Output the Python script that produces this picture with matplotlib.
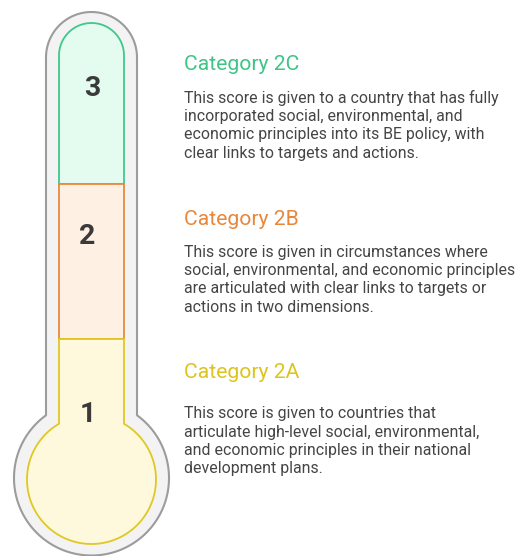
import numpy as np
import matplotlib
matplotlib.use("Agg")
import matplotlib.pyplot as plt
from matplotlib.patches import Polygon

# ---- data ----
scores = [3, 2, 1]
categories = ["Category 2C", "Category 2B", "Category 2A"]
descriptions = [
    ["This score is given to a country that has fully",
     "incorporated social, environmental, and",
     "economic principles into its BE policy, with",
     "clear links to targets and actions."],
    ["This score is given in circumstances where",
     "social, environmental, and economic principles",
     "are articulated with clear links to targets or",
     "actions in two dimensions."],
    ["This score is given to countries that",
     "articulate high-level social, environmental,",
     "and economic principles in their national",
     "development plans."],
]
edge_colors = ["#3fc88b", "#e8893c", "#e0c824"]
fill_colors = ["#e3fcef", "#fff0e4", "#fef9dc"]
title_colors = ["#3dc486", "#e8873a", "#dcc41c"]

plt.rcParams['font.family'] = ['Roboto', 'DejaVu Sans']

W, H = 517, 556
fig = plt.figure(figsize=(W / 100, H / 100), dpi=100)
ax = fig.add_axes([0, 0, 1, 1])
ax.set_xlim(0, W)
ax.set_ylim(H, 0)
ax.set_aspect('equal')
ax.axis('off')


def tube_top_arc(cx, tc, r, n=60):
    t = np.linspace(np.pi, 0, n)
    return np.column_stack([cx + r * np.cos(t), tc - r * np.sin(t)])


def bulb_arc(bx, by, R, hw, n=200):
    phi0 = np.arccos(hw / R)
    p = np.linspace(phi0, -np.pi - phi0, n)
    return np.column_stack([bx + R * np.cos(p), by - R * np.sin(p)])


# outer glass
cx = 91.5
ohw, otop = 45.5, 12.0
obx, oby, oR = 91.5, 478.0, 77.5
oyj = oby - np.sqrt(oR ** 2 - ohw ** 2)
otc = otop + ohw
outer = np.vstack([
    [[cx - ohw, oyj]],
    tube_top_arc(cx, otc, ohw),
    [[cx + ohw, oyj]],
    bulb_arc(obx, oby, oR, ohw),
])
ax.add_patch(Polygon(outer, closed=True, facecolor="#f3f3f3",
                     edgecolor="#9c9c9c", linewidth=1.5, joinstyle='round'))

# inner sections
ihw, itop = 32.5, 23.0
ibx, iby, iR = 91.5, 479.5, 64.5
iyj = iby - np.sqrt(iR ** 2 - ihw ** 2)
itc = itop + ihw
b1, b2 = 184.0, 339.0

green = np.vstack([
    [[cx - ihw, b1]],
    tube_top_arc(cx, itc, ihw),
    [[cx + ihw, b1]],
])
orange = np.array([[cx - ihw, b1], [cx - ihw, b2], [cx + ihw, b2], [cx + ihw, b1]])
yellow = np.vstack([
    [[cx - ihw, iyj]],
    [[cx - ihw, b2]],
    [[cx + ihw, b2]],
    [[cx + ihw, iyj]],
    bulb_arc(ibx, iby, iR, ihw),
])
for poly, ec, fc in zip([green, orange, yellow], edge_colors, fill_colors):
    ax.add_patch(Polygon(poly, closed=True, facecolor=fc, edgecolor=ec,
                         linewidth=1.3, joinstyle='miter'))

# numbers
num_pos = [(92, 88), (87.5, 236), (88, 414)]
for s, (x, y) in zip(scores, num_pos):
    ax.text(x, y, str(s), fontsize=20.5, fontweight='bold', color="#3a3a3a",
            ha='center', va='center')

# text blocks
title_base = [70, 225, 378.5]
body_first = [102.7, 256.7, 418.3]
line_gap = 18.35
tx = 184
for cat, desc, tcol, tb, bf in zip(categories, descriptions, title_colors,
                                   title_base, body_first):
    ax.text(tx, tb, cat, fontsize=15.2, color=tcol, ha='left', va='baseline')
    for i, line in enumerate(desc):
        ax.text(tx, bf + i * line_gap, line, fontsize=11.4, color="#454545",
                ha='left', va='baseline')

fig.savefig("out.png", dpi=100, facecolor="white")
